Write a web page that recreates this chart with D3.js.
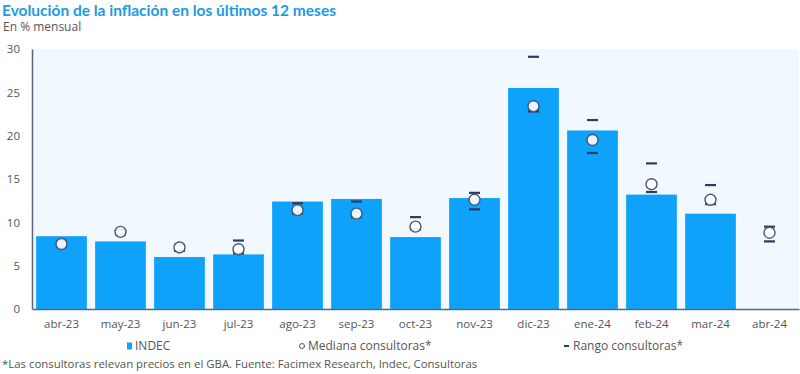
<!DOCTYPE html>
<html>
<head>
<meta charset="utf-8">
<script src="https://cdn.jsdelivr.net/npm/d3@7"></script>
<style>
  body { margin: 0; background: #fff; }
  svg { display: block; font-family: "Open Sans", sans-serif; }
</style>
</head>
<body>
<div id="chart"></div>
<script>
// Data
const months = ['abr-23', 'may-23', 'jun-23', 'jul-23', 'ago-23', 'sep-23', 'oct-23', 'nov-23', 'dic-23', 'ene-24', 'feb-24', 'mar-24', 'abr-24']
const indec = [8.4, 7.8, 6.0, 6.3, 12.4, 12.7, 8.3, 12.8, 25.5, 20.6, 13.2, 11.0, null]
const mediana = [7.5, 8.9, 7.1, 6.9, 11.4, 11.0, 9.5, 12.6, 23.4, 19.5, 14.4, 12.6, 8.8]
const rangoMin = [7.2, 8.6, 6.7, 6.4, 11.0, 10.6, 9.2, 11.5, 22.8, 18.0, 13.5, 12.1, 7.8]
const rangoMax = [7.8, 9.1, 7.4, 7.9, 12.2, 12.4, 10.6, 13.4, 29.1, 21.8, 16.8, 14.3, 9.5]
const yTicks = [0, 5, 10, 15, 20, 25, 30]

const width = 800
const height = 374
const margin = { top: 49, right: 1, bottom: 65, left: 32 }

const barColor = '#0ea2fb'
const markColor = '#2b3a66'
const textColor = '#555'

d3.select('#chart').selectAll('*').remove()
const svg = d3.select('#chart').append('svg').attr('width', width).attr('height', height)

const x = d3.scaleBand()
  .domain(months)
  .range([margin.left, width - margin.right])
  .paddingInner(0.14)
  .paddingOuter(0.07)

const y = d3.scaleLinear()
  .domain([0, 30])
  .range([height - margin.bottom, margin.top])

// Title and subtitle
svg.append('text')
  .attr('x', 2)
  .attr('y', 16)
  .attr('font-family', 'Lato, sans-serif')
  .attr('font-size', '15.5px')
  .attr('font-weight', 'bold')
  .attr('fill', '#1a9be6')
  .text('Evolución de la inflación en los últimos 12 meses')

svg.append('text')
  .attr('x', 3)
  .attr('y', 31)
  .attr('font-size', '12px')
  .attr('fill', textColor)
  .text('En % mensual')

// Plot background
svg.append('rect')
  .attr('x', margin.left)
  .attr('y', margin.top)
  .attr('width', width - margin.right - margin.left)
  .attr('height', y(0) - margin.top)
  .attr('fill', '#f2f9fe')

// Bars
svg.append('g')
  .selectAll('rect')
  .data(months.map((m, i) => ({ m, v: indec[i] })).filter(d => d.v != null))
  .join('rect')
  .attr('x', d => x(d.m))
  .attr('y', d => y(d.v))
  .attr('width', x.bandwidth())
  .attr('height', d => y(0) - y(d.v))
  .attr('fill', barColor)

// Range dashes
const dashW = 11
const rangeData = months.flatMap((m, i) => [{ m, v: rangoMin[i] }, { m, v: rangoMax[i] }])
svg.append('g')
  .selectAll('line')
  .data(rangeData)
  .join('line')
  .attr('x1', d => x(d.m) + x.bandwidth() / 2 - dashW / 2)
  .attr('x2', d => x(d.m) + x.bandwidth() / 2 + dashW / 2)
  .attr('y1', d => y(d.v))
  .attr('y2', d => y(d.v))
  .attr('stroke', markColor)
  .attr('stroke-width', 2.2)

// Median circles
svg.append('g')
  .selectAll('circle')
  .data(months.map((m, i) => ({ m, v: mediana[i] })))
  .join('circle')
  .attr('cx', d => x(d.m) + x.bandwidth() / 2)
  .attr('cy', d => y(d.v))
  .attr('r', 5.5)
  .attr('fill', '#fff')
  .attr('fill-opacity', 0.9)
  .attr('stroke', '#4a5675')
  .attr('stroke-width', 1.4)

// Axes
const yAxis = svg.append('g')
  .attr('transform', `translate(${margin.left},0)`)
  .call(d3.axisLeft(y).tickValues(yTicks).tickSize(0).tickPadding(12))
yAxis.select('.domain').attr('stroke', '#5b6680').attr('stroke-width', 1.5)
yAxis.selectAll('text').attr('font-size', '11.5px').attr('fill', textColor).attr('font-family', '"Open Sans", sans-serif')

const xAxis = svg.append('g')
  .attr('transform', `translate(0,${y(0)})`)
  .call(d3.axisBottom(x).tickSize(0).tickPadding(11))
xAxis.select('.domain').attr('stroke', '#5b6680').attr('stroke-width', 1.5)
xAxis.selectAll('text').attr('font-size', '11.5px').attr('fill', textColor).attr('font-family', '"Open Sans", sans-serif')

// Legend
const legendY = 346
const legend = svg.append('g').attr('font-size', '12px').attr('fill', textColor)
legend.append('rect').attr('x', 127).attr('y', legendY - 3.5).attr('width', 5).attr('height', 7).attr('fill', barColor)
legend.append('text').attr('x', 135).attr('y', legendY + 4).text('INDEC')
legend.append('circle').attr('cx', 302).attr('cy', legendY).attr('r', 2.5)
  .attr('fill', '#fff').attr('stroke', '#4a5675').attr('stroke-width', 1)
legend.append('text').attr('x', 308).attr('y', legendY + 4).text('Mediana consultoras*')
legend.append('line').attr('x1', 564).attr('x2', 569).attr('y1', legendY).attr('y2', legendY)
  .attr('stroke', markColor).attr('stroke-width', 2)
legend.append('text').attr('x', 573).attr('y', legendY + 4).text('Rango consultoras*')

// Footnote
svg.append('text')
  .attr('x', 2)
  .attr('y', 368)
  .attr('font-size', '11.4px')
  .attr('fill', textColor)
  .text('*Las consultoras relevan precios en el GBA. Fuente: Facimex Research, Indec, Consultoras')
</script>
</body>
</html>
